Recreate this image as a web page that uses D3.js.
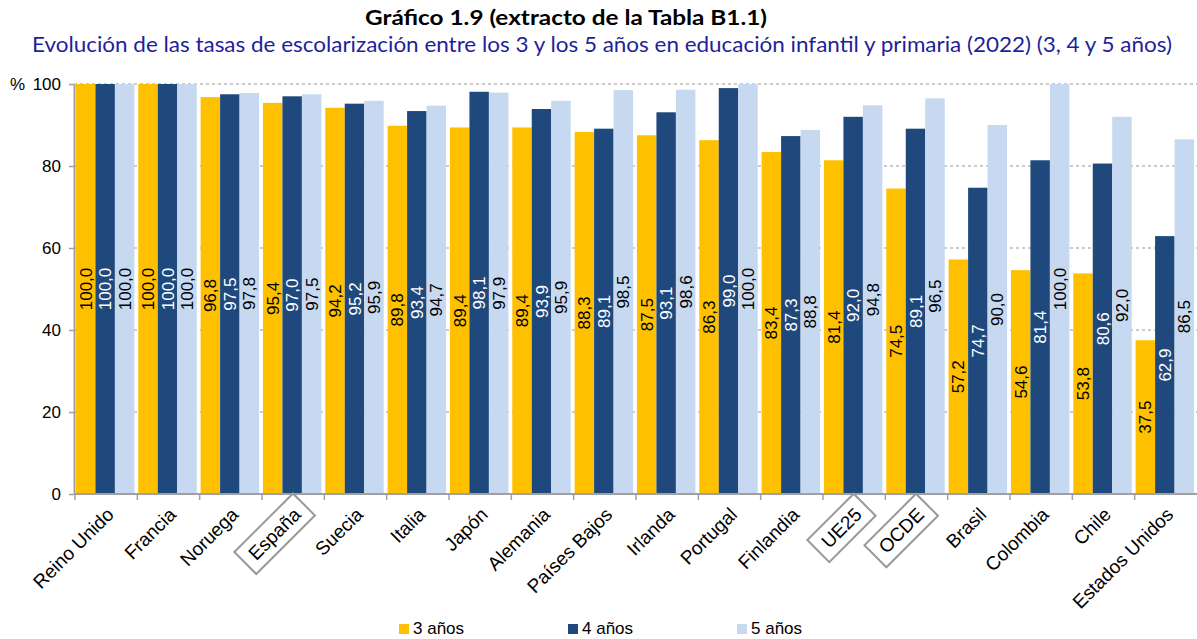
<!DOCTYPE html>
<html>
<head>
<meta charset="utf-8">
<script src="https://cdn.jsdelivr.net/npm/d3@7"></script>
<style>
  html, body { margin: 0; padding: 0; background: #fff; }
  svg { display: block; }
  svg text { font-family: 'Liberation Sans', Arial, sans-serif; }
</style>
</head>
<body>
<div id="chart"></div>
<script>
// datos del gráfico
const categories = ['Reino Unido', 'Francia', 'Noruega', 'España', 'Suecia', 'Italia', 'Japón', 'Alemania',
  'Países Bajos', 'Irlanda', 'Portugal', 'Finlandia', 'UE25', 'OCDE', 'Brasil', 'Colombia', 'Chile', 'Estados Unidos'];
const seriesNames = ['3 años', '4 años', '5 años'];
const age3 = [100.0, 100.0, 96.8, 95.4, 94.2, 89.8, 89.4, 89.4, 88.3, 87.5, 86.3, 83.4, 81.4, 74.5, 57.2, 54.6, 53.8, 37.5];
const age4 = [100.0, 100.0, 97.5, 97.0, 95.2, 93.4, 98.1, 93.9, 89.1, 93.1, 99.0, 87.3, 92.0, 89.1, 74.7, 81.4, 80.6, 62.9];
const age5 = [100.0, 100.0, 97.8, 97.5, 95.9, 94.7, 97.9, 95.9, 98.5, 98.6, 100.0, 88.8, 94.8, 96.5, 90.0, 100.0, 92.0, 86.5];
const yTicks = [0, 20, 40, 60, 80, 100];
const boxed = ['España', 'UE25', 'OCDE'];

const colors = ['#FFC000', '#1F497D', '#C6D9F0'];
const labelColors = ['#000', '#fff', '#000'];

const width = 1197, height = 639;
const margin = { top: 84, right: 1, bottom: 145, left: 74 };
const titleFont = "Lato, 'Open Sans', sans-serif";

const svg = d3.select('#chart').append('svg')
  .attr('width', width)
  .attr('height', height);

// títulos
svg.append('text')
  .attr('x', 566).attr('y', 25)
  .attr('text-anchor', 'middle')
  .attr('textLength', 402)
  .attr('lengthAdjust', 'spacingAndGlyphs')
  .style('font-family', titleFont)
  .style('font-weight', 'bold')
  .style('font-size', '21px')
  .attr('fill', '#000')
  .text('Gráfico 1.9 (extracto de la Tabla B1.1)');

svg.append('text')
  .attr('x', 602).attr('y', 52)
  .attr('text-anchor', 'middle')
  .attr('textLength', 1140)
  .attr('lengthAdjust', 'spacingAndGlyphs')
  .style('font-family', titleFont)
  .style('font-size', '21px')
  .attr('fill', '#1F1F9A')
  .text('Evolución de las tasas de escolarización entre los 3 y los 5 años en educación infantil y primaria (2022) (3, 4 y 5 años)');

const x0 = d3.scaleBand()
  .domain(categories)
  .range([margin.left, width - margin.right])
  .paddingInner(0)
  .paddingOuter(0);

const x1 = d3.scaleBand()
  .domain(d3.range(seriesNames.length))
  .range([0, x0.bandwidth()])
  .paddingInner(0)
  .paddingOuter(0.1);

const y = d3.scaleLinear()
  .domain([0, 100])
  .range([height - margin.bottom, margin.top]);

// cuadrícula discontinua
svg.append('g')
  .selectAll('line')
  .data(yTicks.filter(d => d > 0))
  .join('line')
  .attr('x1', margin.left)
  .attr('x2', width)
  .attr('y1', d => y(d))
  .attr('y2', d => y(d))
  .attr('stroke', '#999')
  .attr('stroke-width', 1)
  .attr('stroke-dasharray', '3,3');

// eje Y
const yAxis = svg.append('g')
  .attr('transform', `translate(${margin.left},0)`)
  .call(d3.axisLeft(y).tickValues(yTicks).tickSize(5).tickSizeOuter(0).tickPadding(8));
yAxis.attr('font-family', null);
yAxis.select('.domain').attr('stroke', '#A0A0A0').attr('stroke-width', 2);
yAxis.selectAll('.tick line').attr('stroke', '#A0A0A0').attr('stroke-width', 1.5);
yAxis.selectAll('.tick text')
  .style('font-size', '17px')
  .attr('fill', '#000');

svg.append('text')
  .attr('x', 10).attr('y', y(100) + 6)
  .style('font-size', '17px')
  .attr('fill', '#000')
  .text('%');

// barras
const rows = categories.map((c, i) => ({ cat: c, values: [age3[i], age4[i], age5[i]] }));

const groups = svg.append('g')
  .selectAll('g')
  .data(rows)
  .join('g')
  .attr('transform', d => `translate(${x0(d.cat)},0)`);

groups.selectAll('rect')
  .data(d => d.values.map((v, k) => ({ v, k })))
  .join('rect')
  .attr('x', d => x1(d.k))
  .attr('y', d => y(d.v))
  .attr('width', x1.bandwidth())
  .attr('height', d => y(0) - y(d.v))
  .attr('fill', d => colors[d.k]);

// etiquetas de valor (centradas en la barra, verticales)
groups.selectAll('text.val')
  .data(d => d.values.map((v, k) => ({ v, k })))
  .join('text')
  .attr('class', 'val')
  .attr('transform', d => `translate(${x1(d.k) + x1.bandwidth() / 2 + 6},${(y(d.v) + y(0)) / 2}) rotate(-90)`)
  .attr('text-anchor', 'middle')
  .style('font-size', '17px')
  .attr('fill', d => labelColors[d.k])
  .text(d => d3.format('.1f')(d.v).replace('.', ','));

// eje X
const xAxis = svg.append('g')
  .attr('transform', `translate(0,${y(0)})`);
xAxis.append('line')
  .attr('x1', margin.left).attr('x2', width)
  .attr('y1', 0).attr('y2', 0)
  .attr('stroke', '#A0A0A0').attr('stroke-width', 2);
xAxis.selectAll('line.tick')
  .data(categories)
  .join('line')
  .attr('class', 'tick')
  .attr('x1', d => x0(d) + 1).attr('x2', d => x0(d) + 1)
  .attr('y1', 0).attr('y2', 6)
  .attr('stroke', '#A0A0A0').attr('stroke-width', 1.5);

const xLabels = xAxis.selectAll('g.lab')
  .data(categories)
  .join('g')
  .attr('class', 'lab')
  .attr('transform', d => `translate(${x0(d) + x0.bandwidth() / 2 + 5},${17}) rotate(-45)`);

xLabels.append('text')
  .attr('text-anchor', 'end')
  .attr('dy', '0.35em')
  .style('font-size', '19px')
  .attr('fill', '#000')
  .text(d => d);

// recuadros alrededor de España, UE25 y OCDE
xLabels.filter(d => boxed.includes(d)).each(function () {
  const g = d3.select(this);
  const bb = g.select('text').node().getBBox();
  g.insert('rect', 'text')
    .attr('x', bb.x - 9)
    .attr('y', bb.y - 5)
    .attr('width', bb.width + 18)
    .attr('height', bb.height + 10)
    .attr('fill', 'none')
    .attr('stroke', '#999')
    .attr('stroke-width', 2);
});

// leyenda
const legendX = [399, 568, 737];
const legend = svg.append('g')
  .selectAll('g')
  .data(seriesNames)
  .join('g')
  .attr('transform', (d, i) => `translate(${legendX[i]},624)`);
legend.append('rect')
  .attr('width', 10).attr('height', 10)
  .attr('fill', (d, i) => colors[i]);
legend.append('text')
  .attr('x', 14).attr('y', 10)
  .style('font-size', '17px')
  .attr('fill', '#000')
  .text(d => d);
</script>
</body>
</html>
